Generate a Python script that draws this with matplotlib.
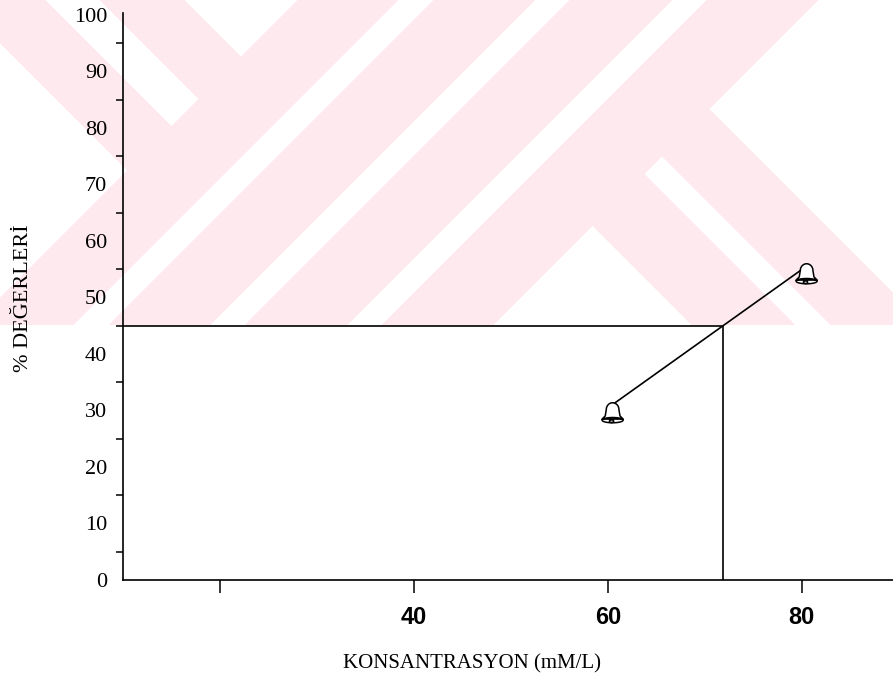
import numpy as np
import matplotlib
matplotlib.use("Agg")
import matplotlib.pyplot as plt
from matplotlib.path import Path

# values
konsantrasyon = [60.2, 80.2]      # mM/L
yuzde = [30.7, 55.2]              # % values
hedef_yuzde = 45                  # reading line
x_ticks = [20, 40, 60, 80]
x_tick_labels = ["", "40", "60", "80"]
y_ticks = list(range(0, 101, 10))
y_minor = list(range(5, 100, 10))

# concentration where the line reaches 45 %
kesisim_x = np.interp(hedef_yuzde, yuzde, konsantrasyon)

W, H = 893, 683
fig = plt.figure(figsize=(W / 100, H / 100), dpi=100)

# pale background watermark in the upper part of the page
wh = 325
yy, xx = np.mgrid[0:wh, 0:W]
s = xx + yy
d = yy - xx
pembe = np.zeros((wh, W), bool)
sol = s < 297
pembe |= sol & (d > -46) & (d <= 43)
pembe |= sol & (d > -185) & (d <= -100)
for a, b in [(297, 398), (433, 535), (569, 672), (706, 818)]:
    pembe |= (s >= a) & (s < b)
sag = s >= 818
pembe |= sag & (d >= -600) & (d < -505)
pembe |= sag & (d >= -470) & (d < -366)
img = np.ones((wh, W, 3))
img[pembe] = (253 / 255, 233 / 255, 238 / 255)
fig.figimage(img, xo=0, yo=H - wh, origin="upper", zorder=-1)

# axes: y axis at x=10, x axis at y=0
ax = fig.add_axes([123 / W, (H - 580) / H, (W - 123) / W, (580 - 13) / H])
ax.patch.set_visible(False)
ax.set_xlim(10, 89.4)
ax.set_ylim(0, 100.35)
for sp in ["top", "right"]:
    ax.spines[sp].set_visible(False)
for sp in ["left", "bottom"]:
    ax.spines[sp].set_linewidth(1.2)

# bell shaped marker
t = np.linspace(0, np.pi, 24)
dome = np.column_stack([6 * np.cos(t), 3 + 6.5 * np.sin(t)])
body = np.vstack([[[10, -6], [7, -3]], dome, [[-7, -3], [-10, -6], [10, -6]]])
u = np.linspace(0, 2 * np.pi, 32)
rim = np.column_stack([10 * np.cos(u), -7 + 2.5 * np.sin(u)])
clap = np.column_stack([-1 + 2 * np.cos(u), -8 + 1.2 * np.sin(u)])
parts = [Path(p + [2, -5], closed=True) for p in (body, rim, clap)]
bell = Path.make_compound_path(*parts)

ax.hlines(hedef_yuzde, 10, kesisim_x, color="black", lw=1.2)
ax.vlines(kesisim_x, 0, hedef_yuzde, color="black", lw=1.2)
ax.plot(konsantrasyon, yuzde, color="black", lw=1.2, zorder=3)
ax.plot(konsantrasyon, yuzde, linestyle="none", marker=bell, markersize=22,
        mfc="white", mec="black", mew=1.1, zorder=4)

ax.set_yticks(y_ticks)
ax.set_yticks(y_minor, minor=True)
ax.tick_params(axis="y", which="major", length=0, pad=11.5)
ax.tick_params(axis="y", which="minor", length=5, width=1.1, direction="out")
for lab in ax.get_yticklabels():
    lab.set_fontfamily("Liberation Serif")
    lab.set_fontsize(16)

ax.set_xticks(x_ticks, x_tick_labels)
ax.tick_params(axis="x", length=9, width=1.1, pad=10)
for lab in ax.get_xticklabels():
    lab.set_fontfamily("Liberation Sans")
    lab.set_fontweight("bold")
    lab.set_fontsize(17)

fig.text(472 / W, 1 - 664 / H, "KONSANTRASYON (mM/L)", ha="center", va="center",
         family="Liberation Serif", fontsize=15)
fig.text(24 / W, 1 - 298 / H, "% DEĞERLERİ", ha="center", va="center", rotation=90,
         family="Liberation Serif", fontsize=16)

fig.savefig("out.png", dpi=100)
